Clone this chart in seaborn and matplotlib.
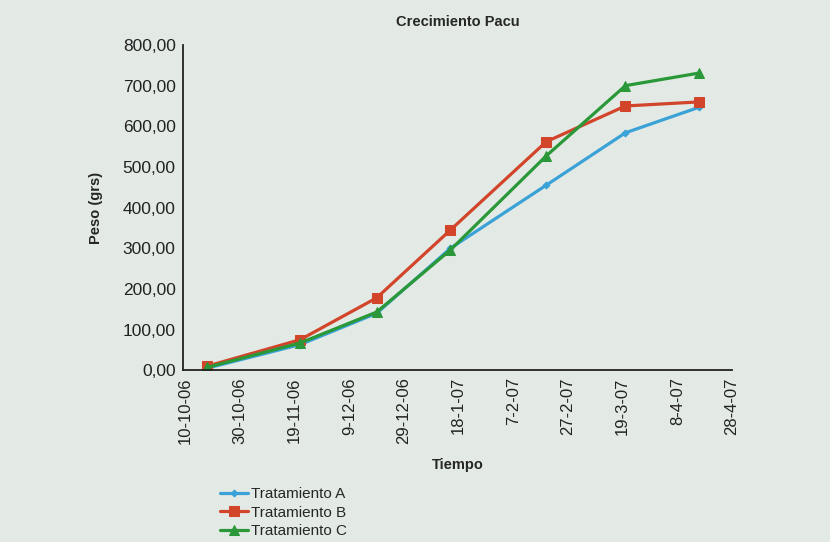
import matplotlib
matplotlib.use("Agg")
import matplotlib.pyplot as plt
import seaborn as sns
import pandas as pd

# data
fechas = ["18-10-2006", "21-11-2006", "19-12-2006", "15-01-2007",
          "19-02-2007", "20-03-2007", "16-04-2007"]
trat_a = [5, 63, 140, 300, 455, 584, 647]
trat_b = [10, 75, 178, 345, 562, 650, 660]
trat_c = [7, 67, 143, 296, 527, 700, 731]

tick_fechas = ["10-10-2006", "30-10-2006", "19-11-2006", "09-12-2006",
               "29-12-2006", "18-01-2007", "07-02-2007", "27-02-2007",
               "19-03-2007", "08-04-2007", "28-04-2007"]
tick_labels = ["10-10-06", "30-10-06", "19-11-06", "9-12-06", "29-12-06",
               "18-1-07", "7-2-07", "27-2-07", "19-3-07", "8-4-07", "28-4-07"]
y_ticks = [0, 100, 200, 300, 400, 500, 600, 700, 800]

x = pd.to_datetime(fechas, dayfirst=True)
xt = pd.to_datetime(tick_fechas, dayfirst=True)

sns.set_theme(style="white")
plt.rcParams['font.family'] = ['Liberation Sans', 'DejaVu Sans']

bg = "#e3eae5"
fig = plt.figure(figsize=(8.3, 5.42), dpi=100, facecolor=bg)
ax = fig.add_axes([0.22, 0.317, 0.662, 0.6])
ax.set_facecolor(bg)

series = [
    ("Tratamiento A", trat_a, "#3aa2d6", "D", 3.5),
    ("Tratamiento B", trat_b, "#d2452b", "s", 7),
    ("Tratamiento C", trat_c, "#2a9838", "^", 7),
]
for name, vals, col, mk, ms in series:
    sns.lineplot(x=x, y=vals, ax=ax, color=col, marker=mk, markersize=ms,
                 markeredgecolor=col, linewidth=2.3, label=name, legend=False)

ax.set_xlim(xt[0] - pd.Timedelta(days=1), xt[-1])
ax.set_ylim(0, 800)
ax.set_xticks(xt)
ax.set_xticklabels(tick_labels, rotation=90, fontsize=12)
ax.set_yticks(y_ticks)
ax.set_yticklabels([f"{v:.2f}".replace(".", ",") for v in y_ticks], fontsize=12.5)
ax.tick_params(axis="both", colors="#222222", length=0, pad=5)

for s in ["top", "right"]:
    ax.spines[s].set_visible(False)
for s in ["left", "bottom"]:
    ax.spines[s].set_color("#222222")
    ax.spines[s].set_linewidth(1.3)

ax.set_title("Crecimiento Pacu", fontsize=10.5, fontweight="bold", pad=14)
ax.set_ylabel("Peso (grs)", fontsize=10.5, fontweight="bold", labelpad=14)
ax.set_xlabel("Tiempo", fontsize=10.5, fontweight="bold", labelpad=10)

handles, labels = ax.get_legend_handles_labels()
fig.legend(handles, labels, loc="upper left",
           bbox_to_anchor=(0.258, 1 - 481 / 542), frameon=False,
           prop={"size": 11}, handlelength=1.8,
           handletextpad=0.2, labelspacing=0.3, borderaxespad=0)

fig.savefig("out.png", dpi=100, facecolor=bg)
